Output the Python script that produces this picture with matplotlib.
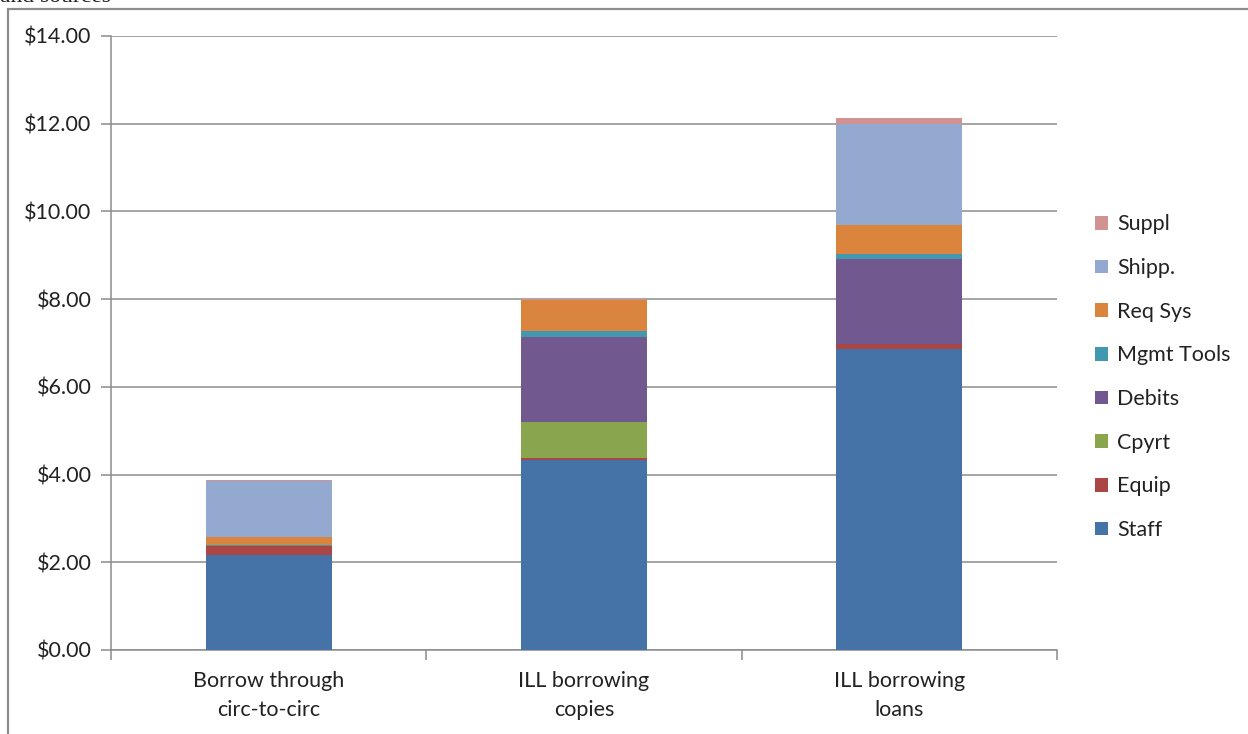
import matplotlib.pyplot as plt
import numpy as np
from matplotlib.patches import Rectangle

plt.rcParams['font.family'] = ['Lato', 'DejaVu Sans']

categories = ['Borrow through\ncirc-to-circ', 'ILL borrowing\ncopies', 'ILL borrowing\nloans']
series_names = ['Staff', 'Equip', 'Cpyrt', 'Debits', 'Mgmt Tools', 'Req Sys', 'Shipp.', 'Suppl']
staff = [2.17, 4.33, 6.87]
equip = [0.19, 0.05, 0.11]
cpyrt = [0.00, 0.81, 0.00]
debits = [0.00, 1.95, 1.93]
mgmt_tools = [0.03, 0.13, 0.13]
req_sys = [0.19, 0.71, 0.64]
shipp = [1.27, 0.00, 2.31]
suppl = [0.03, 0.02, 0.13]
series_values = [staff, equip, cpyrt, debits, mgmt_tools, req_sys, shipp, suppl]
colors = ['#4572A7', '#AA4643', '#89A54E', '#71588F', '#4198AF', '#DB843D', '#93A9CF', '#D19392']
y_ticks = [0, 2, 4, 6, 8, 10, 12, 14]

W, H = 1248, 734
FS = 15.5
fig = plt.figure(figsize=(W / 100, H / 100), dpi=100)
ax = fig.add_axes([111 / W, 1 - 650 / H, (1057 - 111) / W, (650 - 36) / H])

# outer frame of the embedded chart
fig.patches.append(Rectangle((8 / W, -0.1), 1.2, 1.1 - 9 / H, transform=fig.transFigure,
                             fill=False, edgecolor='#8c8c8c', linewidth=1.6, zorder=0))
# caption above the chart, clipped by the page edge like in the source
fig.text(0.0, 1.0 - 2 / H, 'and sources', family='Liberation Serif', fontsize=17,
         va='baseline', ha='left', color='#222222')

x = np.arange(len(categories))
bottom = np.zeros(len(categories))
handles = []
for name, vals, c in zip(series_names, series_values, colors):
    vals = np.array(vals)
    b = ax.bar(x, vals, width=0.4, bottom=bottom, color=c, label=name, zorder=3)
    handles.append(b)
    bottom += vals

ax.set_xlim(-0.5, 2.5)
ax.set_ylim(0, 14)
ax.set_yticks(y_ticks)
ax.set_yticklabels(['$%.2f' % v for v in y_ticks], fontsize=FS, color='#222222')
ax.yaxis.grid(True, color='#8c8c8c', linewidth=1.1, zorder=0)
ax.set_xticks(x)
ax.set_xticklabels(categories, fontsize=FS, color='#222222', linespacing=1.6)
ax.tick_params(axis='x', length=0, pad=15)
ax.tick_params(axis='y', length=7, color='#8c8c8c', width=1.1, pad=7)
ax.set_xticks([-0.5, 0.5, 1.5, 2.5], minor=True)
ax.tick_params(axis='x', which='minor', length=7, color='#8c8c8c', width=1.1)
for s in ['top', 'right']:
    ax.spines[s].set_visible(False)
for s in ['left', 'bottom']:
    ax.spines[s].set_color('#8c8c8c')
    ax.spines[s].set_linewidth(1.1)

leg = fig.legend(handles[::-1], series_names[::-1], loc='upper left',
                 bbox_to_anchor=(1076 / W, 1 - 195 / H), frameon=False, fontsize=FS,
                 handlelength=0.6, handleheight=0.6, handletextpad=0.4, labelspacing=1.1)
for t in leg.get_texts():
    t.set_color('#222222')

fig.savefig('out.png', dpi=100)
